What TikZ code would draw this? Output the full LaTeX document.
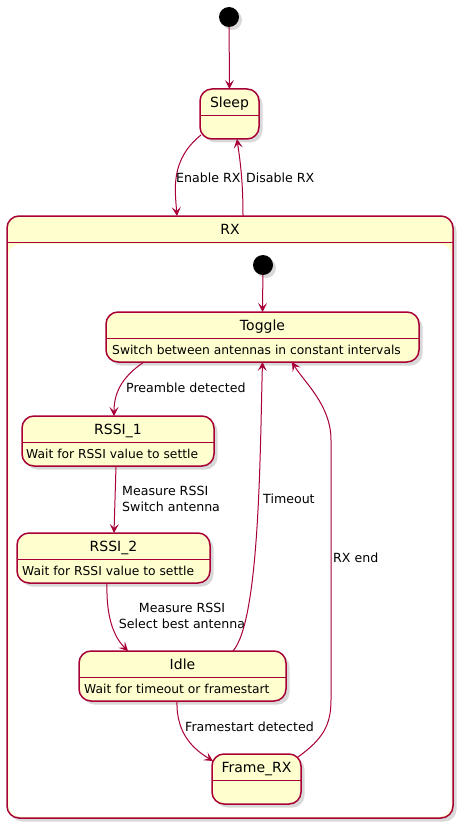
\documentclass[tikz,border=0pt]{standalone}
\usepackage{fontspec}
\setmainfont{DejaVu Sans}
\usetikzlibrary{arrows.meta,shadows}
\definecolor{statefill}{HTML}{FEFECE}
\definecolor{stateline}{HTML}{A80036}

\begin{document}
\begin{tikzpicture}[x=1pt, y=-1pt,
        statebox/.style={draw=stateline, fill=statefill, line width=1.5pt, rounded corners=12pt,
            minimum height=50pt, inner sep=0pt, outer sep=0pt,
            drop shadow={shadow xshift=3.5pt, shadow yshift=-3.5pt, opacity=0.3}},
        startdot/.style={circle, fill=black, minimum size=20pt, inner sep=0pt,
            drop shadow={shadow xshift=3pt, shadow yshift=-3pt, opacity=0.3}},
        statetitle/.style={font=\fontsize{14}{16}\selectfont, inner sep=0pt, anchor=base},
        desc/.style={font=\fontsize{12.3}{15}\selectfont, inner sep=0pt, anchor=base west},
        lbl/.style={font=\fontsize{12.6}{15.5}\selectfont, inner sep=0pt},
        divider/.style={draw=stateline, line width=1.5pt},
        transition/.style={draw=stateline, line width=1pt, -{Stealth[length=9pt, width=9pt, inset=4pt]}}]
            \useasboundingbox (0,0) rectangle (464,829);
            \node[startdot] (start1) at (229,17) {};
            \node[statebox, minimum width=59pt] (sleep) at (229.5,114) {};
            \node[statetitle] (sleeptitle) at ([yshift=-18.7pt]sleep.north) {Sleep};
            \draw[divider] ([yshift=-26.5pt]sleep.north west) -- ([yshift=-26.5pt]sleep.north east);
            \node[statebox, minimum width=446pt, minimum height=602pt] (rx) at (230,517) {};
            \fill[white, rounded corners=12pt] ([shift={(1.5pt,-28pt)}]rx.north west) rectangle ([shift={(-1.5pt,1.5pt)}]rx.south east);
            \node[statetitle] (rxtitle) at ([yshift=-18.5pt]rx.north) {RX};
            \draw[divider] ([yshift=-26.5pt]rx.north west) -- ([yshift=-26.5pt]rx.north east);
            \node[startdot] (start2) at (263,265) {};
            \node[statebox, minimum width=313pt] (toggle) at (262.5,337) {};
            \node[statetitle] (toggletitle) at ([yshift=-18.7pt]toggle.north) {Toggle};
            \draw[divider] ([yshift=-26.5pt]toggle.north west) -- ([yshift=-26.5pt]toggle.north east);
            \node[desc] (toggledesc) at ([shift={(6pt,-42.5pt)}]toggle.north west) {Switch between antennas in constant intervals};
            \node[statebox, minimum width=192pt] (rssi1) at (118,441) {};
            \node[statetitle] (rssi1title) at ([yshift=-18.7pt]rssi1.north) {RSSI\_1};
            \draw[divider] ([yshift=-26.5pt]rssi1.north west) -- ([yshift=-26.5pt]rssi1.north east);
            \node[desc] (rssi1desc) at ([shift={(4pt,-42pt)}]rssi1.north west) {Wait for RSSI value to settle};
            \node[statebox, minimum width=193pt] (rssi2) at (113.5,558) {};
            \node[statetitle] (rssi2title) at ([yshift=-18.7pt]rssi2.north) {RSSI\_2};
            \draw[divider] ([yshift=-26.5pt]rssi2.north west) -- ([yshift=-26.5pt]rssi2.north east);
            \node[desc] (rssi2desc) at ([shift={(5pt,-42pt)}]rssi2.north west) {Wait for RSSI value to settle};
            \node[statebox, minimum width=207pt] (idle) at (182.5,676) {};
            \node[statetitle] (idletitle) at ([yshift=-18.7pt]idle.north) {Idle};
            \draw[divider] ([yshift=-26.5pt]idle.north west) -- ([yshift=-26.5pt]idle.north east);
            \node[desc] (idledesc) at ([shift={(5pt,-42pt)}]idle.north west) {Wait for timeout or framestart};
            \node[statebox, minimum width=89pt] (framerx) at (256.5,779) {};
            \node[statetitle] (framerxtitle) at ([yshift=-18.7pt]framerx.north) {Frame\_RX};
            \draw[divider] ([yshift=-26.5pt]framerx.north west) -- ([yshift=-26.5pt]framerx.north east);
            \draw[transition] (start1) -- (sleep.north);
            \draw[transition] ([shift={(1pt,4pt)}]sleep.south west) .. controls +(-31,25) and +(-2,-26) .. ([xshift=170pt]rx.north west);
            \node[lbl, anchor=west] (enablelbl) at (176,178) {Enable RX};
            \draw[transition] ([xshift=236pt]rx.north west) .. controls +(0,-36) and +(3,21) .. ([xshift=7.5pt]sleep.south);
            \node[lbl, anchor=west] (disablelbl) at (246,178) {Disable RX};
            \draw[transition] (start2) -- (toggle.north);
            \draw[transition] ([xshift=38pt]toggle.south west) .. controls +(-24,16) and +(0,-21) .. ([xshift=-4pt]rssi1.north);
            \node[lbl, anchor=west] (preamblelbl) at (126,388) {Preamble detected};
            \draw[transition] ([xshift=-2pt]rssi1.south) -- ([xshift=0.5pt]rssi2.north);
            \node[lbl, anchor=west, align=left] (switchlbl) at (122,499) {Measure RSSI\\Switch antenna};
            \draw[transition] ([xshift=-6.5pt]rssi2.south) .. controls +(-1,37) and +(-13,-13) .. ([xshift=49pt]idle.north west);
            \node[lbl, align=center] (selectlbl) at (182,616) {Measure RSSI\\Select best antenna};
            \draw[transition] ([xshift=154pt]idle.north west) .. controls +(27,-31) and +(-2.5,88) .. (toggle.south);
            \node[lbl, anchor=west] (timeoutlbl) at (263,499) {Timeout};
            \draw[transition] ([xshift=-5.5pt]idle.south) .. controls +(-1,34) and +(-18,-11) .. ([shift={(1pt,-7pt)}]framerx.north west);
            \node[lbl, anchor=west] (framestartlbl) at (185,727) {Framestart detected};
            \draw[transition] ([shift={(-3pt,-3pt)}]framerx.north east) .. controls +(25,-18) and +(0,25) .. ++(33,-57) -- ++(0,-260) .. controls +(0,-35) and +(12,20) .. ([xshift=29.5pt]toggle.south);
            \node[lbl, anchor=west] (rxendlbl) at (333,558) {RX end};
        \end{tikzpicture}
\end{document}
